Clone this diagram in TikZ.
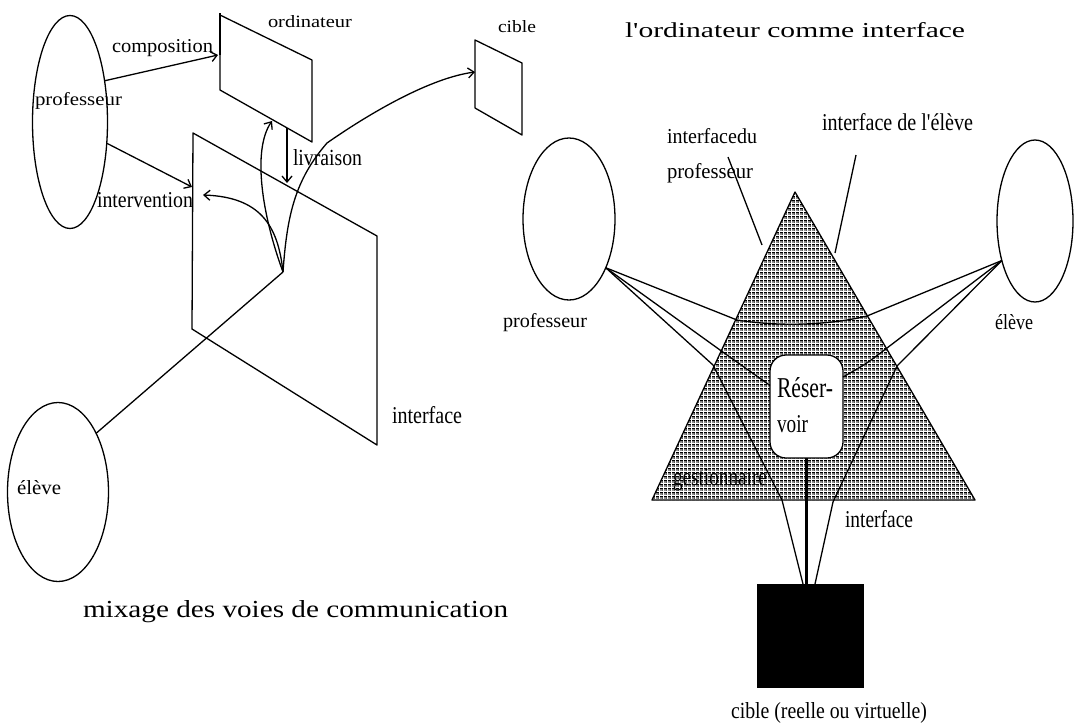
\documentclass[tikz,border=0pt]{standalone}
\usepackage{fontspec}
\setmainfont{Liberation Serif}
\usetikzlibrary{shapes.geometric,arrows.meta,patterns}

% screen texture used for the interface triangle
\pgfdeclarepatternformonly{screen}{\pgfqpoint{0pt}{0pt}}{\pgfqpoint{4pt}{4pt}}{\pgfqpoint{4pt}{4pt}}{%
  \pgfpathrectangle{\pgfqpoint{0.3pt}{2.35pt}}{\pgfqpoint{3.4pt}{1.3pt}}%
  \pgfpathrectangle{\pgfqpoint{0.35pt}{0.35pt}}{\pgfqpoint{1.3pt}{1.3pt}}%
  \pgfpathrectangle{\pgfqpoint{2.35pt}{0.35pt}}{\pgfqpoint{1.3pt}{1.3pt}}%
  \pgfusepath{fill}}

% label set to a given width and height (in pt)
\newcommand\fitlabel[3]{\resizebox{#1pt}{#2pt}{#3}}

\begin{document}
\begin{tikzpicture}[x=1pt,y=-1pt,line join=round,
  every node/.style={inner sep=0pt,outer sep=0pt},
  ln/.style={line width=1.3pt},
  arr/.style={ln,-{Straight Barb[length=6pt,width=10pt]}},
  oval/.style={draw,ellipse,line width=1.3pt},
  lbl/.style={anchor=base west}]
\useasboundingbox (0,0) rectangle (1078,723);

%------------------------------------------------------------ left part
\node[oval,minimum width=75pt,minimum height=213pt] (profL) at (70,122) {};
\node[oval,minimum width=101pt,minimum height=179pt] (eleveL) at (58,492) {};

% ordinateur panel
\coordinate (o1) at (220,15);
\coordinate (o2) at (312,60);
\coordinate (o3) at (312,142);
\coordinate (o4) at (220,90);
\draw[ln] (o1) -- (o2) -- (o3) -- (o4) -- cycle;
\draw[line width=2.4pt] (220,13) -- (220,55);

% interface plane
\coordinate (p1) at (193,133);
\coordinate (p2) at (377,236);
\coordinate (p3) at (377,445);
\coordinate (p4) at (192,329);
\draw[ln] (p1) -- (p2) -- (p3) -- (p4) -- cycle;

% cible panel
\coordinate (c1) at (475,40);
\coordinate (c2) at (522,63);
\coordinate (c3) at (522,135);
\coordinate (c4) at (475,108);
\draw[ln] (c1) -- (c2) -- (c3) -- (c4) -- cycle;

% connection points
\coordinate (ordIn) at (218,55);
\coordinate (ifIn) at (192,187);
\coordinate (J) at (283,272);
\coordinate (ordUp) at (272,121);
\coordinate (ordDown) at (287,128);
\coordinate (livEnd) at (287,183);
\coordinate (cibIn) at (475,72);
\coordinate (intEnd) at (203,195);
\coordinate (midC) at (327,143);

\draw[arr] (profL.50) -- (ordIn);
\draw[arr] (profL.-30) -- (ifIn);
\draw[ln] (eleveL.57) -- (J);
\draw[arr] (ordDown) -- (livEnd);
\draw[arr] (J) .. controls (262,215) and (252,150) .. (ordUp);
\draw[arr] (J) .. controls (287,215) and (295,180) .. (midC)
               .. controls (370,113) and (430,78) .. (cibIn);
\draw[arr] (J) .. controls (278,225) and (260,197) .. (intEnd);

% labels
\node[lbl] (tOrdi)   at (268,27)  {\fitlabel{84}{12}{ordinateur}};
\node[lbl] (tCompo)  at (112,52)  {\fitlabel{101}{13}{composition}};
\node[lbl] (tProfL)  at (35,105)  {\fitlabel{87}{13}{professeur}};
\node[lbl] (tLivr)   at (293,165) {\fitlabel{69}{16}{livraison}};
\node[lbl] (tInterv) at (97,207)  {\fitlabel{96}{15}{intervention}};
\node[lbl] (tCible)  at (498,32)  {\fitlabel{38}{12}{cible}};
\node[lbl] (tIfL)    at (392,423) {\fitlabel{70}{17}{interface}};
\node[lbl] (tEleveL) at (17,494)  {\fitlabel{44}{14}{élève}};
\node[lbl] (tTitleL) at (83,617)  {\fitlabel{425}{17}{mixage des voies de communication}};

%------------------------------------------------------------ right part
\node[lbl] (tTitleR) at (625,37)  {\fitlabel{340}{15}{l\textquotesingle ordinateur comme interface}};

\node[oval,minimum width=92pt,minimum height=162pt] (profR) at (569,219) {};
\node[oval,minimum width=76pt,minimum height=162pt] (eleveR) at (1035,221) {};

% interface triangle
\coordinate (t1) at (795,192);
\coordinate (t2) at (652,500);
\coordinate (t3) at (975,500);
\draw[ln,pattern=screen] (t1) -- (t2) -- (t3) -- cycle;

% reservoir and target
\node[draw,fill=white,line width=1.3pt,rounded corners=16pt,
      minimum width=73pt,minimum height=103pt] (res) at (806.5,406.5) {};
\node[fill=black,minimum width=107pt,minimum height=104pt] (sq) at (810.5,636) {};
\draw[line width=3pt] (res.south) -- (res.south |- sq.north);

% channel points
\coordinate (a1) at (737,320);
\coordinate (a2) at (867,316);
\coordinate (b1) at (720,350);
\coordinate (b2) at (887,348);
\coordinate (d1) at (713,365);
\coordinate (d2) at (782,500);
\coordinate (d3) at (803,584);
\coordinate (e1) at (897,366);
\coordinate (e2) at (833,502);
\coordinate (e3) at (815,584);

\draw[ln] (profR.-53) -- (a1) .. controls (780,327) and (830,325) .. (a2) -- (eleveR.-130);
\draw[ln] (profR.-53) -- (b1) .. controls (745,368) .. (res.150);
\draw[ln] (eleveR.-130) -- (b2) .. controls (866,364) .. (res.39);
\draw[ln] (profR.-53) -- (d1) -- (d2) -- (d3);
\draw[ln] (eleveR.-130) -- (e1) -- (e2) -- (e3);

% pointers from the two interface labels
\coordinate (ip1) at (728,157);
\coordinate (ip2) at (762,245);
\coordinate (ie1) at (856,155);
\coordinate (ie2) at (835,253);
\draw[ln] (ip1) -- (ip2);
\draw[ln] (ie1) -- (ie2);

% labels
\node[lbl] (tIfP1)   at (667,143) {\fitlabel{90}{15}{interfacedu}};
\node[lbl] (tIfP2)   at (667,178) {\fitlabel{86}{15}{professeur}};
\node[lbl] (tIfE)    at (822,130) {\fitlabel{151}{17}{interface de l\textquotesingle élève}};
\node[lbl] (tProfR)  at (503,327) {\fitlabel{84}{14}{professeur}};
\node[lbl] (tEleveR) at (995,329) {\fitlabel{38}{15}{élève}};
\node[lbl] (tReser)  at (777,397) {\fitlabel{56}{20}{Réser-}};
\node[lbl] (tVoir)   at (777,432) {\fitlabel{31}{17}{voir}};
\node[lbl] (tGest)   at (673,485) {\fitlabel{94}{17}{gestionnaire}};
\node[lbl] (tIfR)    at (845,527) {\fitlabel{68}{17}{interface}};
\node[lbl] (tCibleR) at (731,718) {\fitlabel{196}{16}{cible (reelle ou virtuelle)}};
\end{tikzpicture}
\end{document}
